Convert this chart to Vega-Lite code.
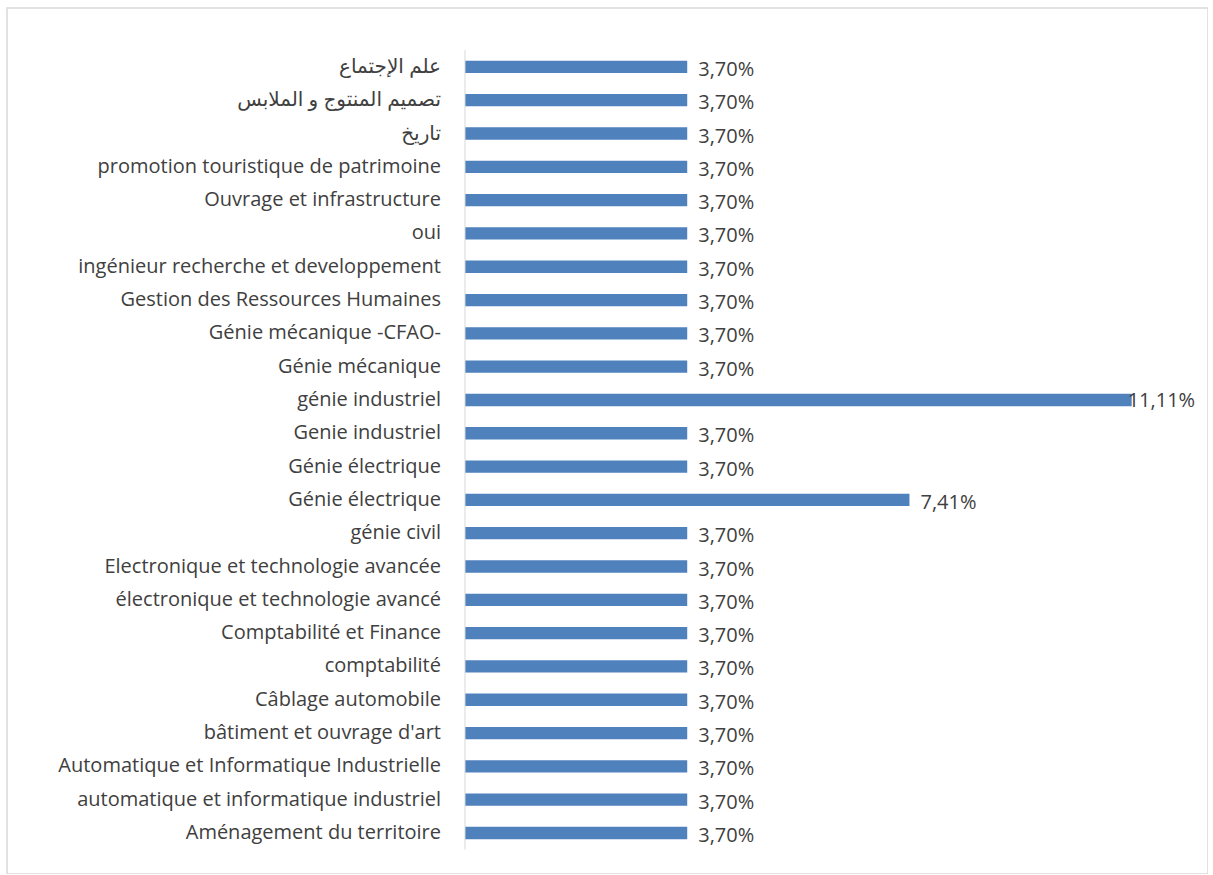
{
  "$schema": "https://vega.github.io/schema/vega-lite/v6.json",
  "width": 1201,
  "height": 866,
  "autosize": {"type": "none"},
  "padding": {"left": 7, "top": 8, "right": 0, "bottom": 0},
  "background": "#ffffff",
  "config": {
    "view": {"stroke": "#d9d9d9", "strokeWidth": 1.5},
    "locale": {"number": {"decimal": ",", "thousands": " ", "grouping": [3], "currency": ["", " €"]}}
  },
  "data": {
    "values": [
      {"order": 1, "category": "علم الإجتماع", "share": 0.037037},
      {"order": 2, "category": "تصميم المنتوج و الملابس", "share": 0.037037},
      {"order": 3, "category": "تاريخ", "share": 0.037037},
      {"order": 4, "category": "promotion touristique de patrimoine ", "share": 0.037037},
      {"order": 5, "category": "Ouvrage et infrastructure ", "share": 0.037037},
      {"order": 6, "category": "oui", "share": 0.037037},
      {"order": 7, "category": "ingénieur recherche et developpement", "share": 0.037037},
      {"order": 8, "category": "Gestion des Ressources Humaines", "share": 0.037037},
      {"order": 9, "category": "Génie mécanique -CFAO-", "share": 0.037037},
      {"order": 10, "category": "Génie mécanique", "share": 0.037037},
      {"order": 11, "category": "génie industriel", "share": 0.111111},
      {"order": 12, "category": "Genie industriel", "share": 0.037037},
      {"order": 13, "category": "Génie électrique ", "share": 0.037037},
      {"order": 14, "category": "Génie électrique", "share": 0.074074},
      {"order": 15, "category": "génie civil", "share": 0.037037},
      {"order": 16, "category": "Electronique et technologie avancée", "share": 0.037037},
      {"order": 17, "category": "électronique et technologie avancé", "share": 0.037037},
      {"order": 18, "category": "Comptabilité et Finance", "share": 0.037037},
      {"order": 19, "category": "comptabilité", "share": 0.037037},
      {"order": 20, "category": "Câblage automobile", "share": 0.037037},
      {"order": 21, "category": "bâtiment et ouvrage d'art  ", "share": 0.037037},
      {"order": 22, "category": "Automatique et Informatique Industrielle", "share": 0.037037},
      {"order": 23, "category": "automatique et informatique industriel", "share": 0.037037},
      {"order": 24, "category": "Aménagement du territoire", "share": 0.037037}
    ]
  },
  "encoding": {
    "y": {
      "field": "order",
      "type": "ordinal",
      "axis": null,
      "scale": {"paddingInner": 0, "paddingOuter": 1.055, "align": 0.634}
    }
  },
  "layer": [
    {
      "mark": {"type": "bar", "color": "#4F81BD", "height": {"band": 0.37}},
      "encoding": {
        "x": {
          "field": "share",
          "type": "quantitative",
          "scale": {"domain": [-0.07633, 0.12383], "nice": false, "zero": false},
          "axis": null
        }
      }
    },
    {
      "transform": [{"filter": "datum.share < 0.1"}],
      "mark": {"type": "text", "align": "left", "baseline": "middle", "dx": 11, "dy": 3, "fontSize": 20, "font": "Open Sans, DejaVu Sans", "color": "#404040"},
      "encoding": {
        "x": {"field": "share", "type": "quantitative"},
        "text": {"field": "share", "type": "quantitative", "format": ".2%"}
      }
    },
    {
      "transform": [{"filter": "datum.share >= 0.1"}],
      "mark": {"type": "text", "align": "left", "baseline": "middle", "dx": -4, "dy": 1, "fontSize": 20, "font": "Open Sans, DejaVu Sans", "color": "#404040"},
      "encoding": {
        "x": {"field": "share", "type": "quantitative"},
        "text": {"field": "share", "type": "quantitative", "format": ".2%"}
      }
    },
    {
      "mark": {"type": "text", "align": "right", "baseline": "middle", "dx": -24, "fontSize": 20, "font": "Open Sans, DejaVu Sans", "color": "#404040"},
      "encoding": {
        "x": {"datum": 0, "type": "quantitative"},
        "text": {"field": "category", "type": "nominal"}
      }
    },
    {
      "data": {"values": [{"axis": "y"}]},
      "mark": {"type": "rule", "color": "#d9d9d9", "strokeWidth": 1},
      "encoding": {
        "x": {"datum": 0, "type": "quantitative"},
        "y": {"datum": 1, "type": "ordinal", "bandPosition": 0},
        "y2": {"datum": 24, "bandPosition": 1}
      }
    }
  ]
}
